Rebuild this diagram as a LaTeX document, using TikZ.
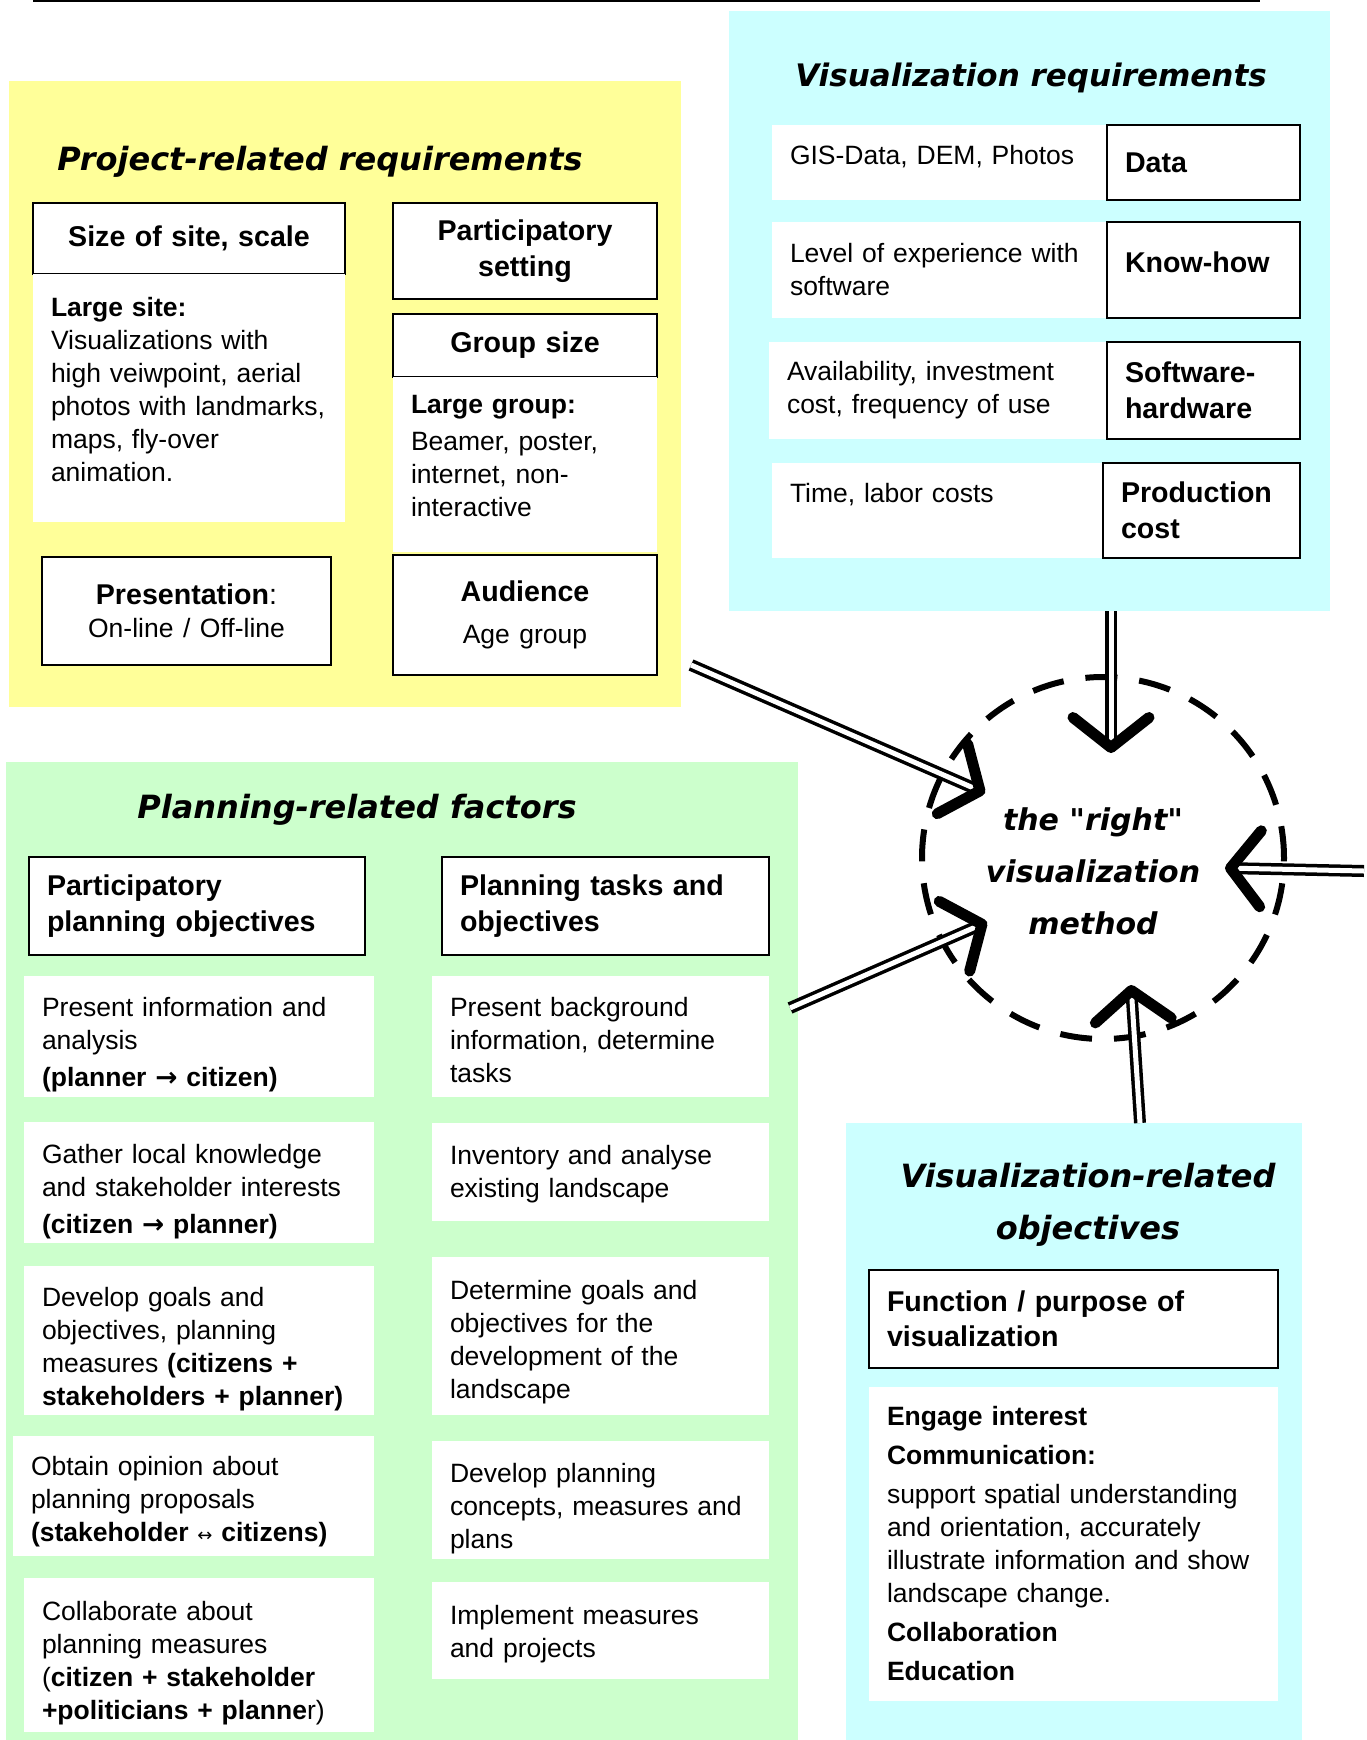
\documentclass[tikz,border=0pt]{standalone}
\usepackage{fontspec}
\setmainfont{Liberation Sans}
\newfontfamily\handfont{DejaVu Sans}
\newfontfamily\arrowfont{DejaVu Sans}
\usepackage{tikz}
\usetikzlibrary{arrows.meta, positioning}
\definecolor{projyellow}{HTML}{FFFF99}
\definecolor{viscyan}   {HTML}{CCFFFF}
\definecolor{plangreen} {HTML}{CCFFCC}
\newcommand{\bodysize}{\fontsize{26.5}{33}\selectfont}
\newcommand{\headsize}{\fontsize{28.6}{35.5}\selectfont\bfseries}
\newcommand{\handsize}{\fontsize{32}{52}\selectfont\handfont\bfseries\itshape}
% invisible struts to push a text down (padabove) or up (padbelow)
\newcommand{\padabove}[1]{\rule{0pt}{#1}}
\newcommand{\padbelow}[1]{\rule[-#1]{0pt}{#1}}

\begin{document}
\begin{tikzpicture}[x=1pt, y=-1pt,
    panel/.style={anchor=north west, inner sep=0pt, outer sep=0pt},
    paneltitle/.style={font=\handsize, align=center, inner sep=0pt},
    headbox/.style={draw, line width=2pt, fill=white, anchor=north west,
                    inner xsep=18pt, inner ysep=2pt, outer sep=0pt,
                    align=left, font=\headsize},
    headcbox/.style={headbox, align=center},
    infobox/.style={fill=white, anchor=north west, inner xsep=18pt,
                    inner ysep=2pt, outer sep=0pt, align=left, font=\bodysize},
    hubring/.style={circle, draw, line width=6pt, dash pattern=on 32pt off 22pt,
                    minimum size=362pt, inner sep=0pt},
    shaft/.style={double, double distance=5pt, line width=3.5pt, shorten >=5pt},
    chev/.style={tips, -{Straight Barb[length=30pt, width=76pt, line width=11pt, round]}},
  ]
    \useasboundingbox (0,0) rectangle (1366,1740);
    \draw[line width=2pt] (33,1) -- (1260,1);

    % coloured panels
    \node[panel, fill=projyellow, minimum width=672pt, minimum height=626pt] (projpanel)   at (9,81) {};
    \node[panel, fill=viscyan,    minimum width=601pt, minimum height=600pt] (visreqpanel) at (729,11) {};
    \node[panel, fill=plangreen,  minimum width=792pt, minimum height=978pt] (planpanel)   at (6,762) {};
    \node[panel, fill=viscyan,    minimum width=456pt, minimum height=617pt] (visobjpanel) at (846,1123) {};

    \node[paneltitle] (projtitle)   at (320,162)  {Project-related requirements};
    \node[paneltitle, font=\handsize\fontsize{31}{52}\selectfont] (visreqtitle) at (1031,78) {Visualization requirements};
    \node[paneltitle] (plantitle)   at (357,810)  {Planning-related factors};
    \node[paneltitle] (visobjtitle) at (1088,1205) {Visualization-related\\objectives};

    % project-related requirements
    \node[headcbox, text width=276pt, minimum height=71pt] (sizehead) at (33,203) {Size of site, scale};
    \node[infobox, text width=276pt, minimum height=248pt, below=0pt of sizehead] (sizeinfo)
      {\textbf{Large site:}\\Visualizations with\\high veiwpoint, aerial\\photos with landmarks,\\maps, fly-over\\animation.\padbelow{18pt}};
    \node[headcbox, text width=228pt, minimum height=96pt] (parthead) at (393,203) {Participatory\\setting};
    \node[headcbox, text width=228pt, minimum height=63pt] (grouphead) at (393,314) {Group size};
    \node[infobox, text width=228pt, minimum height=175pt, below=0pt of grouphead] (groupinfo)
      {\textbf{Large group:}\\[4pt]Beamer, poster,\\internet, non-\\interactive\padbelow{18pt}};
    \node[headcbox, text width=253pt, minimum height=108pt] (presbox) at (42,557)
      {Presentation\mdseries:\\[-2pt]{\bodysize\mdseries On-line / Off-line}};
    \node[headcbox, text width=228pt, minimum height=120pt] (audbox) at (393,555)
      {Audience\\[6pt]{\bodysize\mdseries Age group}};

    % visualization requirements
    \node[infobox, text width=299pt, minimum height=75pt, text depth=16pt] (datainfo) at (772,125) {GIS-Data, DEM, Photos};
    \node[headbox, text width=157pt, minimum height=75pt, right=0pt of datainfo] (datahead) {Data};
    \node[infobox, text width=299pt, minimum height=96pt] (knowinfo) at (772,222) {Level of experience with\\software};
    \node[headbox, text width=157pt, minimum height=96pt, right=0pt of knowinfo, text depth=16pt] (knowhead) {Know-how};
    \node[infobox, text width=302pt, minimum height=97pt] (swinfo) at (769,342) {Availability, investment\\cost, frequency of use};
    \node[headbox, text width=157pt, minimum height=97pt, right=0pt of swinfo] (swhead) {Software-\\hardware};
    \node[infobox, text width=295pt, minimum height=95pt, text depth=36pt] (costinfo) at (772,463) {Time, labor costs};
    \node[headbox, text width=161pt, minimum height=95pt, right=0pt of costinfo] (costhead) {Production\\cost};

    % planning-related factors
    \node[headbox, text width=300pt, minimum height=98pt] (pphead) at (29,857) {Participatory\\planning objectives};
    \node[headbox, text width=291pt, minimum height=98pt] (pthead) at (442,857) {Planning tasks and\\objectives};

    \node[infobox, text width=314pt, minimum height=121pt] (pp1) at (24,976)
      {\padabove{35pt}Present information and\\analysis\\[4pt]\textbf{(planner {\arrowfont\bfseries →} citizen)}};
    \node[infobox, text width=301pt, minimum height=121pt] (pt1) at (432,976)
      {\padabove{27pt}Present background\\information, determine\\tasks};
    \node[infobox, text width=314pt, minimum height=121pt] (pp2) at (24,1122)
      {\padabove{38pt}Gather local knowledge\\and stakeholder interests\\[4pt]\textbf{(citizen {\arrowfont\bfseries →} planner)}};
    \node[infobox, text width=301pt, minimum height=98pt] (pt2) at (432,1123)
      {\padabove{24pt}Inventory and analyse\\existing landscape};
    \node[infobox, text width=314pt, minimum height=149pt] (pp3) at (24,1266)
      {\padabove{37pt}Develop goals and\\objectives, planning\\measures \textbf{(citizens +}\\\textbf{stakeholders + planner)}};
    \node[infobox, text width=301pt, minimum height=158pt] (pt3) at (432,1257)
      {\padabove{31pt}Determine goals and\\objectives for the\\development of the\\landscape};
    \node[infobox, text width=325pt, minimum height=120pt] (pp4) at (13,1436)
      {\padabove{31pt}Obtain opinion about\\planning proposals\\\textbf{(stakeholder} {\arrowfont\fontsize{18}{18}\selectfont ↔} \textbf{citizens)}};
    \node[infobox, text width=301pt, minimum height=118pt] (pt4) at (432,1441)
      {\padabove{36pt}Develop planning\\concepts, measures and\\plans};
    \node[infobox, text width=314pt, minimum height=154pt] (pp5) at (24,1578)
      {\padabove{35pt}Collaborate about\\planning measures\\(\textbf{citizen + stakeholder}\\\textbf{+politicians + planne}r)};
    \node[infobox, text width=301pt, minimum height=97pt] (pt5) at (432,1582)
      {\padabove{26pt}Implement measures\\and projects};

    % visualization-related objectives
    \node[headbox, text width=373pt, minimum height=98pt] (funchead) at (869,1270) {Function / purpose of\\visualization};
    \node[infobox, text width=373pt, minimum height=314pt, below=19pt of funchead] (funcinfo)
      {\textbf{Engage interest}\\[6pt]\textbf{Communication:}\\[6pt]support spatial understanding\\and orientation, accurately\\illustrate information and show\\landscape change.\\[6pt]\textbf{Collaboration}\\[6pt]\textbf{Education}};

    % the method in the middle
    \node[hubring] (hub) at (1103,858) {};
    \node[paneltitle, font=\handsize\fontsize{30}{52}\selectfont] (hubtext) at (1093,871)
      {the "right"\\visualization\\method};

    \coordinate (s1) at (691,665);   \coordinate (t1) at (985,793);
    \coordinate (s2) at (1111,611);  \coordinate (t2) at (1111,753);
    \coordinate (s3) at (1364,871);  \coordinate (t3) at (1225,868);
    \coordinate (s4) at (790,1008);  \coordinate (t4) at (987,922);
    \coordinate (s5) at (1140,1123); \coordinate (t5) at (1131,985);

    \foreach \k in {1,...,5} {
      \draw[shaft] (s\k) -- (t\k);
      \path[chev]  (s\k) -- (t\k);
    }
\end{tikzpicture}
\end{document}
